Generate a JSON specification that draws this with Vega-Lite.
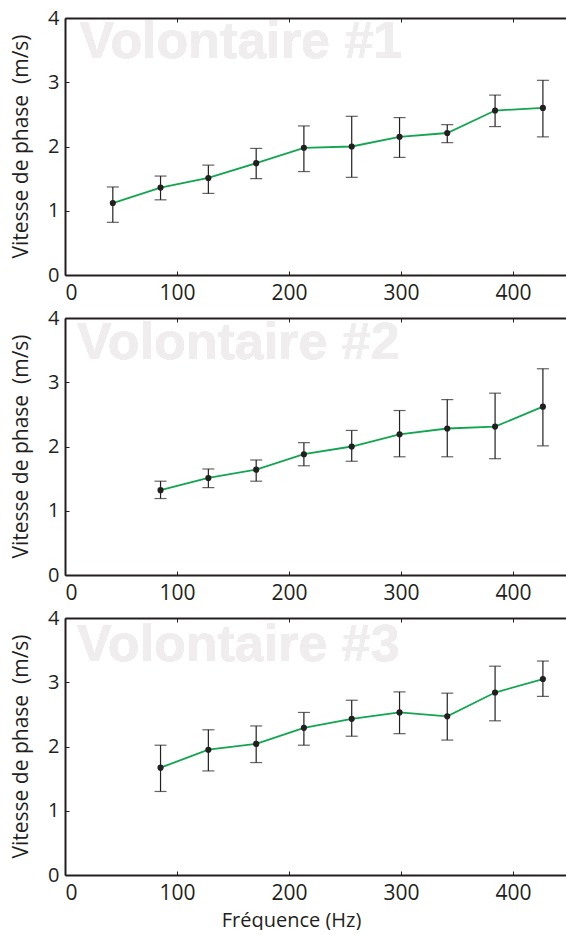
{
  "$schema": "https://vega.github.io/schema/vega-lite/v6.json",
  "background": "white",
  "padding": {"left": 9, "top": 8, "right": 0, "bottom": 0},
  "config": {
    "view": {"stroke": null},
    "font": "Open Sans",
    "axis": {
      "domainColor": "#231f20", "domainWidth": 2, "tickColor": "#231f20", "tickWidth": 1,
      "labelColor": "#231f20", "titleColor": "#231f20", "labelFont": "Open Sans", "titleFont": "Open Sans",
      "labelFontSize": 21, "titleFontSize": 20, "titleFontWeight": "normal", "grid": false
    },
    "axisY": {"tickCount": 5, "tickSize": -4, "labelPadding": 10, "labelFontSize": 20, "titleFontSize": 21, "titleAngle": -90, "titleX": -38, "titleY": 128, "titleAlign": "center", "titleBaseline": "alphabetic"}
  },
  "data": {"values": [
    {"vol": 1, "f": 42.7, "v": 1.12, "lo": 0.82, "hi": 1.37},
    {"vol": 1, "f": 85.3, "v": 1.36, "lo": 1.17, "hi": 1.54},
    {"vol": 1, "f": 128, "v": 1.51, "lo": 1.27, "hi": 1.71},
    {"vol": 1, "f": 170.7, "v": 1.74, "lo": 1.50, "hi": 1.97},
    {"vol": 1, "f": 213.3, "v": 1.98, "lo": 1.61, "hi": 2.32},
    {"vol": 1, "f": 256, "v": 2.00, "lo": 1.52, "hi": 2.47},
    {"vol": 1, "f": 298.7, "v": 2.15, "lo": 1.83, "hi": 2.45},
    {"vol": 1, "f": 341.3, "v": 2.21, "lo": 2.06, "hi": 2.34},
    {"vol": 1, "f": 384, "v": 2.56, "lo": 2.31, "hi": 2.80},
    {"vol": 1, "f": 426.7, "v": 2.60, "lo": 2.15, "hi": 3.03},
    {"vol": 2, "f": 85.3, "v": 1.32, "lo": 1.19, "hi": 1.46},
    {"vol": 2, "f": 128, "v": 1.51, "lo": 1.36, "hi": 1.65},
    {"vol": 2, "f": 170.7, "v": 1.64, "lo": 1.46, "hi": 1.79},
    {"vol": 2, "f": 213.3, "v": 1.88, "lo": 1.70, "hi": 2.06},
    {"vol": 2, "f": 256, "v": 2.00, "lo": 1.77, "hi": 2.25},
    {"vol": 2, "f": 298.7, "v": 2.19, "lo": 1.84, "hi": 2.56},
    {"vol": 2, "f": 341.3, "v": 2.28, "lo": 1.84, "hi": 2.73},
    {"vol": 2, "f": 384, "v": 2.31, "lo": 1.81, "hi": 2.83},
    {"vol": 2, "f": 426.7, "v": 2.62, "lo": 2.01, "hi": 3.21},
    {"vol": 3, "f": 85.3, "v": 1.67, "lo": 1.30, "hi": 2.02},
    {"vol": 3, "f": 128, "v": 1.95, "lo": 1.62, "hi": 2.26},
    {"vol": 3, "f": 170.7, "v": 2.04, "lo": 1.75, "hi": 2.32},
    {"vol": 3, "f": 213.3, "v": 2.29, "lo": 2.02, "hi": 2.53},
    {"vol": 3, "f": 256, "v": 2.43, "lo": 2.16, "hi": 2.72},
    {"vol": 3, "f": 298.7, "v": 2.53, "lo": 2.20, "hi": 2.85},
    {"vol": 3, "f": 341.3, "v": 2.47, "lo": 2.10, "hi": 2.83},
    {"vol": 3, "f": 384, "v": 2.84, "lo": 2.40, "hi": 3.25},
    {"vol": 3, "f": 426.7, "v": 3.05, "lo": 2.78, "hi": 3.33}
  ]},
  "vconcat": [
    {
      "width": 504, "height": 257,
      "transform": [{"filter": "datum.vol == 1"}],
      "resolve": {"axis": {"x": "independent"}},
      "layer": [
        {"mark": {"type": "text", "text": "Volontaire #1", "font": "Liberation Sans", "fontWeight": "bold", "fontSize": 52, "color": "#efeded", "align": "left", "baseline": "alphabetic"},
         "encoding": {"x": {"datum": 13, "type": "quantitative", "axis": null}, "y": {"datum": 3.37, "type": "quantitative", "title": "Vitesse de phase\u00a0 (m/s)"}}},
        {"mark": {"type": "rule", "color": "#231f20", "strokeWidth": 1.2},
         "encoding": {
           "x": {"field": "f", "type": "quantitative", "scale": {"domain": [0, 450], "nice": false}, "axis": {"orient": "bottom", "values": [0, 100, 200, 300, 400], "tickSize": -4, "labelPadding": 11, "title": null}},
           "y": {"field": "lo", "type": "quantitative", "scale": {"domain": [0, 4], "nice": false}, "title": "Vitesse de phase\u00a0 (m/s)"},
           "y2": {"field": "hi"}}},
        {"mark": {"type": "tick", "orient": "horizontal", "color": "#231f20", "size": 12, "thickness": 1.2},
         "encoding": {"x": {"field": "f", "type": "quantitative", "axis": {"orient": "top", "values": [0, 100, 200, 300, 400], "tickSize": -4, "labels": false, "title": null}}, "y": {"field": "lo", "type": "quantitative", "title": "Vitesse de phase\u00a0 (m/s)"}}},
        {"mark": {"type": "tick", "orient": "horizontal", "color": "#231f20", "size": 12, "thickness": 1.2},
         "encoding": {"x": {"field": "f", "type": "quantitative", "axis": null}, "y": {"field": "hi", "type": "quantitative", "title": "Vitesse de phase\u00a0 (m/s)"}}},
        {"mark": {"type": "line", "color": "#12a550", "strokeWidth": 1.8},
         "encoding": {"x": {"field": "f", "type": "quantitative", "axis": null}, "y": {"field": "v", "type": "quantitative", "title": "Vitesse de phase\u00a0 (m/s)"}}},
        {"mark": {"type": "point", "filled": true, "color": "#231f20", "size": 38, "opacity": 1},
         "encoding": {"x": {"field": "f", "type": "quantitative", "axis": null}, "y": {"field": "v", "type": "quantitative", "title": "Vitesse de phase\u00a0 (m/s)"}}}
      ]
    },
    {
      "width": 504, "height": 257,
      "transform": [{"filter": "datum.vol == 2"}],
      "resolve": {"axis": {"x": "independent"}},
      "layer": [
        {"mark": {"type": "text", "text": "Volontaire #2", "font": "Liberation Sans", "fontWeight": "bold", "fontSize": 52, "color": "#efeded", "align": "left", "baseline": "alphabetic"},
         "encoding": {"x": {"datum": 10.7, "type": "quantitative", "axis": null}, "y": {"datum": 3.36, "type": "quantitative", "title": "Vitesse de phase\u00a0 (m/s)"}}},
        {"mark": {"type": "rule", "color": "#231f20", "strokeWidth": 1.2},
         "encoding": {
           "x": {"field": "f", "type": "quantitative", "scale": {"domain": [0, 450], "nice": false}, "axis": {"orient": "bottom", "values": [0, 100, 200, 300, 400], "tickSize": -4, "labelPadding": 11, "title": null}},
           "y": {"field": "lo", "type": "quantitative", "scale": {"domain": [0, 4], "nice": false}, "title": "Vitesse de phase\u00a0 (m/s)"},
           "y2": {"field": "hi"}}},
        {"mark": {"type": "tick", "orient": "horizontal", "color": "#231f20", "size": 12, "thickness": 1.2},
         "encoding": {"x": {"field": "f", "type": "quantitative", "axis": {"orient": "top", "values": [0, 100, 200, 300, 400], "tickSize": -4, "labels": false, "title": null}}, "y": {"field": "lo", "type": "quantitative", "title": "Vitesse de phase\u00a0 (m/s)"}}},
        {"mark": {"type": "tick", "orient": "horizontal", "color": "#231f20", "size": 12, "thickness": 1.2},
         "encoding": {"x": {"field": "f", "type": "quantitative", "axis": null}, "y": {"field": "hi", "type": "quantitative", "title": "Vitesse de phase\u00a0 (m/s)"}}},
        {"mark": {"type": "line", "color": "#12a550", "strokeWidth": 1.8},
         "encoding": {"x": {"field": "f", "type": "quantitative", "axis": null}, "y": {"field": "v", "type": "quantitative", "title": "Vitesse de phase\u00a0 (m/s)"}}},
        {"mark": {"type": "point", "filled": true, "color": "#231f20", "size": 38, "opacity": 1},
         "encoding": {"x": {"field": "f", "type": "quantitative", "axis": null}, "y": {"field": "v", "type": "quantitative", "title": "Vitesse de phase\u00a0 (m/s)"}}}
      ]
    },
    {
      "width": 504, "height": 257,
      "transform": [{"filter": "datum.vol == 3"}],
      "resolve": {"axis": {"x": "independent"}},
      "layer": [
        {"mark": {"type": "text", "text": "Volontaire #3", "font": "Liberation Sans", "fontWeight": "bold", "fontSize": 52, "color": "#efeded", "align": "left", "baseline": "alphabetic"},
         "encoding": {"x": {"datum": 10.7, "type": "quantitative", "axis": null}, "y": {"datum": 3.33, "type": "quantitative", "title": "Vitesse de phase\u00a0 (m/s)"}}},
        {"mark": {"type": "rule", "color": "#231f20", "strokeWidth": 1.2},
         "encoding": {
           "x": {"field": "f", "type": "quantitative", "scale": {"domain": [0, 450], "nice": false}, "axis": {"orient": "bottom", "values": [0, 100, 200, 300, 400], "tickSize": -4, "labelPadding": 11, "title": "Fréquence (Hz)", "titleX": 226, "titleY": 51, "titleAlign": "center", "titleBaseline": "alphabetic"}},
           "y": {"field": "lo", "type": "quantitative", "scale": {"domain": [0, 4], "nice": false}, "title": "Vitesse de phase\u00a0 (m/s)"},
           "y2": {"field": "hi"}}},
        {"mark": {"type": "tick", "orient": "horizontal", "color": "#231f20", "size": 12, "thickness": 1.2},
         "encoding": {"x": {"field": "f", "type": "quantitative", "axis": {"orient": "top", "values": [0, 100, 200, 300, 400], "tickSize": -4, "labels": false, "title": null}}, "y": {"field": "lo", "type": "quantitative", "title": "Vitesse de phase\u00a0 (m/s)"}}},
        {"mark": {"type": "tick", "orient": "horizontal", "color": "#231f20", "size": 12, "thickness": 1.2},
         "encoding": {"x": {"field": "f", "type": "quantitative", "axis": null}, "y": {"field": "hi", "type": "quantitative", "title": "Vitesse de phase\u00a0 (m/s)"}}},
        {"mark": {"type": "line", "color": "#12a550", "strokeWidth": 1.8},
         "encoding": {"x": {"field": "f", "type": "quantitative", "axis": null}, "y": {"field": "v", "type": "quantitative", "title": "Vitesse de phase\u00a0 (m/s)"}}},
        {"mark": {"type": "point", "filled": true, "color": "#231f20", "size": 38, "opacity": 1},
         "encoding": {"x": {"field": "f", "type": "quantitative", "axis": null}, "y": {"field": "v", "type": "quantitative", "title": "Vitesse de phase\u00a0 (m/s)"}}}
      ]
    }
  ],
  "spacing": 43,
  "bounds": "flush"
}
